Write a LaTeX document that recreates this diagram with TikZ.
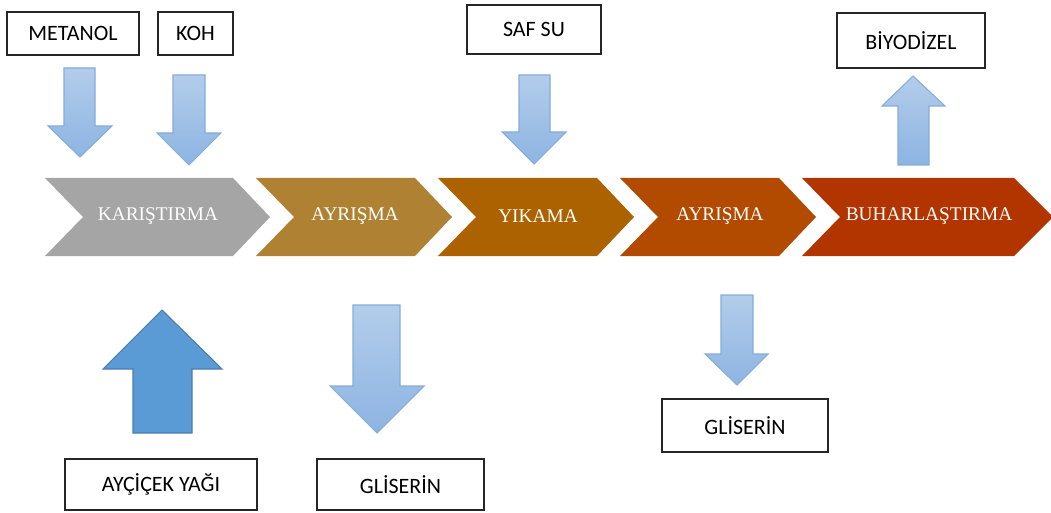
\documentclass[tikz,border=0pt]{standalone}
\usepackage{fontspec}
\setmainfont{Liberation Serif}
\newfontfamily\boxfont{Carlito}
\usepackage{tikz}
\usetikzlibrary{positioning}

\definecolor{mixgray}{HTML}{A5A5A5}
\definecolor{sepgold}{HTML}{AE8232}
\definecolor{washbrown}{HTML}{AD6200}
\definecolor{seprust}{HTML}{B24A00}
\definecolor{vapred}{HTML}{B23500}
\definecolor{feedtop}{HTML}{B3CDEB}
\definecolor{feedbot}{HTML}{8DB4E2}
\definecolor{feedline}{HTML}{86ACDA}
\definecolor{oilblue}{HTML}{5B9BD5}
\definecolor{oilline}{HTML}{4A7CAE}

\tikzset{
  matbox/.style={draw=black!85, line width=0.8pt, fill=white, font=\boxfont\fontsize{12.5}{14}\selectfont, inner sep=0pt},
  steplabel/.style={text=white, font=\fontsize{11}{13}\selectfont},
  feed/.style={draw=feedline, line width=0.6pt, top color=feedtop, bottom color=feedbot},
  oil/.style={draw=oilline, line width=0.6pt, fill=oilblue}
}

\begin{document}
\begin{tikzpicture}[x=0.02cm, y=-0.02cm]
	\useasboundingbox (0,0) rectangle (1051,513);

	\node [matbox, minimum width=2.64cm, minimum height=0.86cm] (metanol) at (73, 33.5) {METANOL};
	\node [matbox, minimum width=1.5cm, minimum height=0.86cm] (koh) at (195.5, 33.5) {KOH};
	\node [matbox, minimum width=2.68cm, minimum height=0.98cm] (safsu) at (534, 29.5) {SAF SU};
	\node [matbox, minimum width=2.96cm, minimum height=1.1cm] (biyodizel) at (911, 40.5) {BİYODİZEL};
	\node [matbox, minimum width=3.84cm, minimum height=1.02cm] (aycicek) at (161, 484.5) {AYÇİÇEK YAĞI};
	\node [matbox, minimum width=3.34cm, minimum height=1.02cm] (gliserin1) at (400.5, 484.5) {GLİSERİN};
	\node [matbox, minimum width=3.32cm, minimum height=1.06cm] (gliserin2) at (745, 425.5) {GLİSERİN};

	\fill [mixgray] (45,178) -- (233,178) -- (270,217) -- (233,256) -- (45,256) -- (83,217) -- cycle;
	\fill [sepgold] (256,178) -- (415,178) -- (452,217) -- (415,256) -- (256,256) -- (294,217) -- cycle;
	\fill [washbrown] (438,178) -- (597,178) -- (634,217) -- (597,256) -- (438,256) -- (476,217) -- cycle;
	\fill [seprust] (620,178) -- (779,178) -- (816,217) -- (779,256) -- (620,256) -- (658,217) -- cycle;
	\fill [vapred] (802,178) -- (1014,178) -- (1053,217) -- (1014,256) -- (802,256) -- (840,217) -- cycle;

	\node [steplabel] (karistirma) at (158, 216) {KARIŞTIRMA};
	\node [steplabel] (ayrisma1) at (355, 216) {AYRIŞMA};
	\node [steplabel] (yikama) at (538, 216) {YIKAMA};
	\node [steplabel] (ayrisma2) at (720, 216) {AYRIŞMA};
	\node [steplabel] (buhar) at (929, 216) {BUHARLAŞTIRMA};

	\draw [feed] (64,68) -- (95,68) -- (95,126) -- (112,126) -- (80,157) -- (48,126) -- (64,126) -- cycle;
	\draw [feed] (173,75) -- (205,75) -- (205,133) -- (221,133) -- (189,165) -- (157,133) -- (173,133) -- cycle;
	\draw [feed] (519,75) -- (550,75) -- (550,132) -- (566,132) -- (534,164) -- (502,132) -- (519,132) -- cycle;
	\draw [feed] (898,165) -- (929,165) -- (929,106) -- (945,106) -- (913,76) -- (882,106) -- (898,106) -- cycle;
	\draw [oil] (133,433) -- (192,433) -- (192,369) -- (222,369) -- (162,310) -- (103,369) -- (133,369) -- cycle;
	\draw [feed] (353,305) -- (400,305) -- (400,386) -- (424,386) -- (377,433) -- (330,386) -- (353,386) -- cycle;
	\draw [feed] (721,295) -- (753,295) -- (753,354) -- (768,354) -- (737,385) -- (705,354) -- (721,354) -- cycle;
\end{tikzpicture}
\end{document}
